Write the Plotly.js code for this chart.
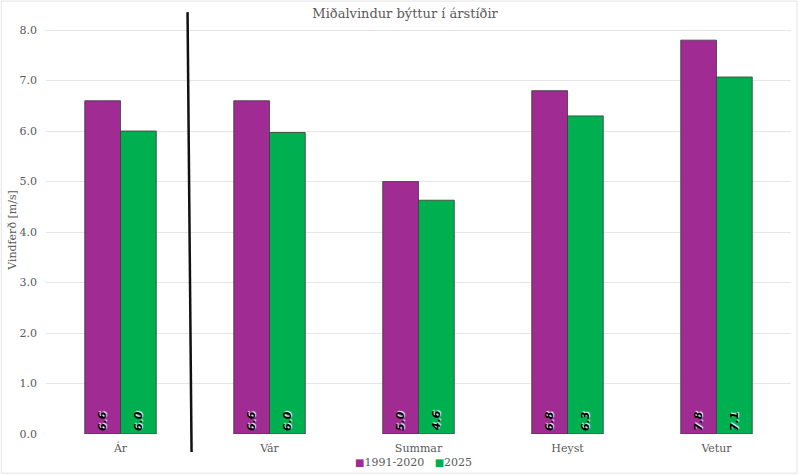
<!DOCTYPE html>
<html>
<head>
<meta charset="utf-8">
<script src="https://cdn.plot.ly/plotly-3.0.1.min.js"></script>
<style>
  html, body { margin: 0; padding: 0; background: #fff; }
  #chart { width: 799px; height: 475px; }
</style>
</head>
<body>
<div id="chart"></div>
<script>
// arstidir og medalvindur
var categories = ['Ár', 'Vár', 'Summar', 'Heyst', 'Vetur'];
var values1991 = [6.6, 6.6, 5.0, 6.8, 7.8];
var values2025 = [6.0, 5.97, 4.63, 6.3, 7.07];
var labels1991 = ['6.6', '6.6', '5.0', '6.8', '7.8'];
var labels2025 = ['6.0', '6.0', '4.6', '6.3', '7.1'];
var yTicks = [0, 1, 2, 3, 4, 5, 6, 7, 8];
var seriesNames = ['1991-2020', '2025'];
var seriesColors = ['#A02B93', '#00B050'];

var serif = 'DejaVu Serif, serif';
var labelFont = {family: 'DejaVu Sans, sans-serif', size: 11, color: '#000',
                 weight: 'bold', style: 'italic', shadow: '1px 1px 1px #fff'};

function makeTrace(i, vals, labels) {
  return {
    type: 'bar',
    name: seriesNames[i],
    x: categories,
    y: vals,
    text: labels,
    textposition: 'inside',
    insidetextanchor: 'start',
    textangle: -90,
    textfont: labelFont,
    marker: {color: seriesColors[i], line: {color: '#3a3a3a', width: 0.8}},
    hoverinfo: 'x+y'
  };
}

var traces = [makeTrace(0, values1991, labels1991), makeTrace(1, values2025, labels2025)];

// legend as text, small squares like the original
var legendText = seriesNames.map(function(n, i) {
  return '<span style="color:' + seriesColors[i] + ';font-size:10px">■</span>' + n;
}).join('&nbsp;&nbsp;&nbsp;');

var layout = {
  width: 799,
  height: 475,
  paper_bgcolor: '#fff',
  plot_bgcolor: '#fff',
  margin: {l: 46, r: 8, t: 26, b: 41, autoexpand: false},
  barmode: 'group',
  bargap: 0.52,
  bargroupgap: 0,
  showlegend: false,
  font: {family: serif, color: '#595959', size: 11},
  title: {
    text: 'Miðalvindur býttur í árstíðir',
    font: {family: serif, size: 13, color: '#595959'},
    x: 0.507, xanchor: 'center', y: 0.972, yanchor: 'middle'
  },
  xaxis: {
    type: 'category',
    tickfont: {family: serif, size: 11, color: '#595959'},
    showgrid: false,
    zeroline: false,
    showline: false,
    ticks: '',
    ticklabelstandoff: 6
  },
  yaxis: {
    range: [0, 8.08],
    tickvals: yTicks,
    tickformat: '.1f',
    tickfont: {family: serif, size: 11, color: '#595959'},
    gridcolor: '#e6e6e6',
    gridwidth: 1,
    zeroline: false,
    showline: false,
    ticks: '',
    ticklabelstandoff: 8,
    title: {text: 'Vindferð [m/s]', font: {family: serif, size: 11, color: '#595959'}, standoff: 0}
  },
  annotations: [
    {xref: 'paper', yref: 'paper', x: 0.493, y: -0.07, xanchor: 'center', yanchor: 'middle',
     showarrow: false, text: legendText, font: {family: serif, size: 11, color: '#595959'}}
  ],
  shapes: [
    // skililinja millum Ár og árstíðir
    {type: 'line', xref: 'x', yref: 'paper', x0: 0.45, x1: 0.477, y0: 1.034, y1: -0.044,
     line: {color: '#111', width: 2.5}},
    {type: 'rect', xref: 'paper', yref: 'paper', x0: -0.06, x1: 1.008, y0: -0.096, y1: 1.061,
     line: {color: '#e3e3e3', width: 1}, layer: 'below'}
  ]
};

Plotly.newPlot('chart', traces, layout, {displayModeBar: false, staticPlot: true});
</script>
</body>
</html>
